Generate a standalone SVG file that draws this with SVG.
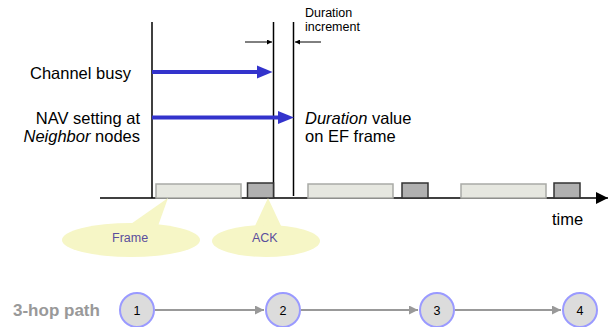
<svg xmlns="http://www.w3.org/2000/svg" width="609" height="327" viewBox="0 0 609 327">
<defs>
<marker id="blk" viewBox="0 0 10 10" refX="10" refY="5" markerWidth="6" markerHeight="5" markerUnits="userSpaceOnUse" orient="auto"><path d="M0,0 L10,5 L0,10 z" fill="#000"/></marker>
<marker id="axis" viewBox="0 0 10 10" refX="10" refY="5" markerWidth="14" markerHeight="12" markerUnits="userSpaceOnUse" orient="auto"><path d="M0,0 L10,5 L0,10 z" fill="#000"/></marker>
<marker id="gray" viewBox="0 0 10 10" refX="10" refY="5" markerWidth="11" markerHeight="9" markerUnits="userSpaceOnUse" orient="auto"><path d="M0,0 L10,5 L0,10 z" fill="#999"/></marker>
<style>
text{font-family:"Liberation Sans",Arial,sans-serif;}
.lbl{font-size:16.5px;fill:#000;}
.small{font-size:12.5px;fill:#000;}
.call{font-size:12.5px;fill:#5a4e9c;}
.vline{stroke:#000;stroke-width:1.5;fill:none;}
.blue{fill:#3333cc;}
.frame{fill:#e6e7e0;stroke:#a9aaa6;stroke-width:1.5;}
.ack{fill:#b0b0b0;stroke:#333;stroke-width:1.5;}
.bubble{fill:#f6f6c6;}
.node circle{fill:#dcdcdc;stroke:#9a9aff;stroke-width:2;}
.node text{font-size:12.5px;fill:#000;text-anchor:middle;}
.edge{stroke:#999;stroke-width:2;fill:none;marker-end:url(#gray);}
</style>
</defs>
<rect width="609" height="327" fill="#fff"/>

<g id="timeline">
<line class="vline" x1="152" y1="22" x2="152" y2="198"/>
<line class="vline" x1="273.5" y1="22" x2="273.5" y2="198"/>
<line class="vline" x1="293.5" y1="22" x2="293.5" y2="196"/>
<line x1="245" y1="42" x2="272" y2="42" stroke="#000" stroke-width="1" marker-end="url(#blk)"/>
<line x1="321" y1="42" x2="295" y2="42" stroke="#000" stroke-width="1" marker-end="url(#blk)"/>
<text class="small" x="305" y="17">Duration</text>
<text class="small" x="305" y="30.5">increment</text>
</g>

<g id="channel-busy">
<text class="lbl" x="30" y="79">Channel busy</text>
<rect class="blue" x="152" y="70" width="107" height="4"/>
<path class="blue" d="M257,65.5 L272.5,72 L257,78.5 z"/>
</g>

<g id="nav">
<text class="lbl" x="140" y="124" text-anchor="end">NAV setting at</text>
<text class="lbl" x="140" y="142" text-anchor="end"><tspan font-style="italic">Neighbor</tspan> nodes</text>
<rect class="blue" x="152" y="115.5" width="128" height="4"/>
<path class="blue" d="M278,111 L294,117.5 L278,124 z"/>
</g>

<g id="duration-value">
<text class="lbl" x="305" y="124"><tspan font-style="italic">Duration</tspan> value</text>
<text class="lbl" x="305" y="142">on EF frame</text>
</g>

<g id="axis-group">
<line x1="100" y1="198" x2="608" y2="198" stroke="#000" stroke-width="1.5" marker-end="url(#axis)"/>
<text class="lbl" x="552" y="225">time</text>
</g>

<g id="frames">
<rect class="frame" x="156" y="184" width="85" height="14"/>
<rect class="ack" x="247.5" y="183" width="26" height="15"/>
<rect class="frame" x="308" y="184" width="85" height="14"/>
<rect class="ack" x="402" y="183" width="26" height="15"/>
<rect class="frame" x="461" y="184" width="85" height="14"/>
<rect class="ack" x="554" y="183" width="26" height="15"/>
</g>

<g id="frame-callout">
<path class="bubble" d="M168,198 L158,226 L128,226 z"/>
<ellipse class="bubble" cx="131" cy="240" rx="69" ry="17"/>
<text class="call" x="112" y="242">Frame</text>
</g>

<g id="ack-callout">
<path class="bubble" d="M268,198 L282,228 L254,228 z"/>
<ellipse class="bubble" cx="266" cy="241" rx="54" ry="16"/>
<text class="call" x="252" y="242">ACK</text>
</g>

<text x="13" y="316" font-size="17" font-weight="bold" fill="#999">3-hop path</text>

<g id="connectors">
<line class="edge" x1="155" y1="310" x2="264" y2="310"/>
<line class="edge" x1="301" y1="310" x2="418" y2="310"/>
<line class="edge" x1="455" y1="310" x2="561" y2="310"/>
</g>

<g id="n1" class="node"><circle cx="137" cy="310" r="17"/><text x="137" y="315">1</text></g>
<g id="n2" class="node"><circle cx="283" cy="310" r="17"/><text x="283" y="315">2</text></g>
<g id="n3" class="node"><circle cx="437" cy="310" r="17"/><text x="437" y="315">3</text></g>
<g id="n4" class="node"><circle cx="580" cy="310" r="17"/><text x="580" y="315">4</text></g>
</svg>
